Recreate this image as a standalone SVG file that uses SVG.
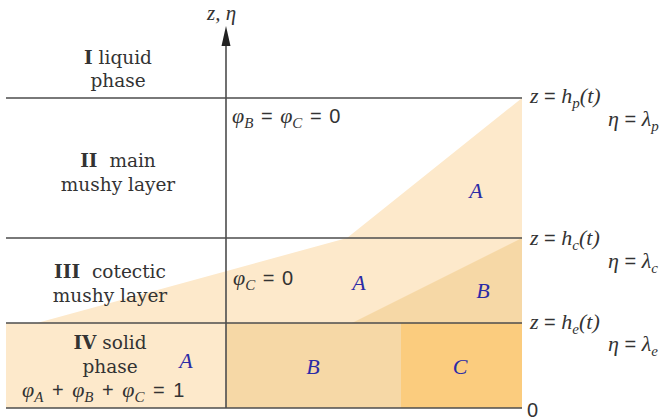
<svg xmlns="http://www.w3.org/2000/svg" width="664" height="420" viewBox="0 0 664 420">
<style>
.ln{stroke:#4d4d4d;stroke-width:1.6;fill:none}
.lbl{font-family:"DejaVu Serif","Liberation Serif",serif;font-size:18.5px;fill:#333}
.b{font-weight:bold}
.m{font-family:"Liberation Serif",serif;font-style:italic;font-size:22px;fill:#333}
.n{font-style:normal;font-family:"Liberation Sans",sans-serif;font-size:20px}
.sub{font-size:15px}
.ph{font-family:"Liberation Serif",serif;font-style:italic;font-size:22px;fill:#2b2ba6}
.light{fill:#fde9cb}
.mid{fill:#f6d8a6}
.dark{fill:#fbcc7e}
</style>
<rect width="664" height="420" fill="#ffffff"/>
<g id="regions">
<polygon class="light" points="6,323 37,323 347,238 522,98 522,408 6,408"/>
<polygon class="mid" points="352,323 522,238 522,323"/>
<rect class="mid" x="226" y="323" width="175" height="85"/>
<rect class="dark" x="401" y="323" width="121" height="85"/>
</g>
<g id="connectors">
<line class="ln" x1="6" y1="98" x2="522" y2="98"/>
<line class="ln" x1="6" y1="238" x2="522" y2="238"/>
<line class="ln" x1="6" y1="323" x2="522" y2="323"/>
<line class="ln" x1="6" y1="408" x2="522" y2="408"/>
<line class="ln" x1="226" y1="408" x2="226" y2="40"/>
<polygon points="226,26 221.5,46 230.5,46" fill="#222"/>
</g>
<g id="axis-label"><text class="m" x="207" y="20" style="font-size:21px">z, η</text></g>
<g id="layer-I">
<text class="lbl" x="118" y="64" text-anchor="middle"><tspan class="b">I</tspan> liquid</text>
<text class="lbl" x="118" y="87" text-anchor="middle">phase</text>
</g>
<g id="layer-II">
<text class="lbl" x="118" y="167" text-anchor="middle"><tspan class="b">II</tspan><tspan dx="6"> main</tspan></text>
<text class="lbl" x="118" y="191" text-anchor="middle">mushy layer</text>
<text class="m" x="232" y="123">φ<tspan class="sub" dy="5">B</tspan><tspan class="n" dy="-5" dx="2"> = </tspan><tspan dx="2">φ</tspan><tspan class="sub" dy="5">C</tspan><tspan class="n" dy="-5" dx="2"> = </tspan><tspan class="n" dx="2">0</tspan></text>
<text class="ph" x="476" y="198" text-anchor="middle">A</text>
</g>
<g id="layer-III">
<text class="lbl" x="110" y="278" text-anchor="middle"><tspan class="b">III</tspan><tspan dx="6"> cotectic</tspan></text>
<text class="lbl" x="110" y="302" text-anchor="middle">mushy layer</text>
<text class="m" x="233" y="285">φ<tspan class="sub" dy="5">C</tspan><tspan class="n" dy="-5" dx="2"> = </tspan><tspan class="n" dx="2">0</tspan></text>
<text class="ph" x="359" y="290" text-anchor="middle">A</text>
<text class="ph" x="483" y="298" text-anchor="middle">B</text>
</g>
<g id="layer-IV">
<text class="lbl" x="110" y="349" text-anchor="middle"><tspan class="b">IV</tspan> solid</text>
<text class="lbl" x="110" y="373" text-anchor="middle">phase</text>
<text class="m" x="22" y="397">φ<tspan class="sub" dy="5">A</tspan><tspan class="n" dy="-5" dx="3"> + </tspan><tspan dx="3">φ</tspan><tspan class="sub" dy="5">B</tspan><tspan class="n" dy="-5" dx="3"> + </tspan><tspan dx="3">φ</tspan><tspan class="sub" dy="5">C</tspan><tspan class="n" dy="-5" dx="3"> = </tspan><tspan class="n" dx="3">1</tspan></text>
<text class="ph" x="186" y="368" text-anchor="middle">A</text>
<text class="ph" x="313" y="374" text-anchor="middle">B</text>
<text class="ph" x="460" y="374" text-anchor="middle">C</text>
</g>
<g id="boundary-labels">
<text class="m" x="530" y="103">z<tspan class="n"> = </tspan>h<tspan class="sub" dy="5">p</tspan><tspan dy="-5">(t)</tspan></text>
<text class="m" x="608" y="126">η<tspan class="n"> = </tspan>λ<tspan class="sub" dy="5">p</tspan></text>
<text class="m" x="530" y="245">z<tspan class="n"> = </tspan>h<tspan class="sub" dy="5">c</tspan><tspan dy="-5">(t)</tspan></text>
<text class="m" x="608" y="268">η<tspan class="n"> = </tspan>λ<tspan class="sub" dy="5">c</tspan></text>
<text class="m" x="530" y="329">z<tspan class="n"> = </tspan>h<tspan class="sub" dy="5">e</tspan><tspan dy="-5">(t)</tspan></text>
<text class="m" x="608" y="351">η<tspan class="n"> = </tspan>λ<tspan class="sub" dy="5">e</tspan></text>
<text class="n" x="527" y="417" fill="#333">0</text>
</g>
</svg>
